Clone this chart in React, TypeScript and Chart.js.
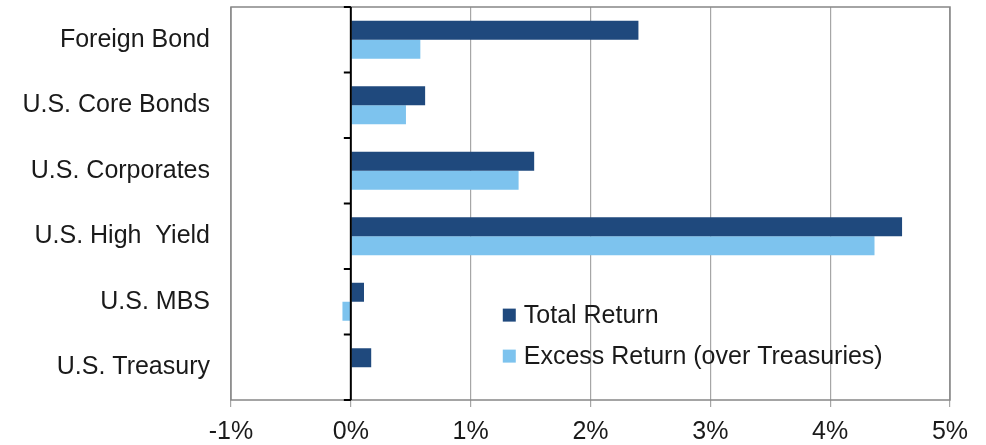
import { useEffect, useRef } from "react";
import { Chart, registerables } from "chart.js";

Chart.register(...registerables);

const categories = [
  "Foreign Bond",
  "U.S. Core Bonds",
  "U.S. Corporates",
  "U.S. High  Yield",
  "U.S. MBS",
  "U.S. Treasury",
];
const totalReturn = [2.4, 0.62, 1.53, 4.6, 0.11, 0.17];
const excessReturn = [0.58, 0.46, 1.4, 4.37, -0.07, 0];
const seriesNames = ["Total Return", "Excess Return (over Treasuries)"];
const seriesColors = ["#1f497d", "#7dc3ee"];
const xMin = -1;
const xMax = 5;
const xStep = 1;

const FONT = "'Liberation Sans', Arial, sans-serif";
const TEXT = "#1a1a1a";

const framePlugin = {
  id: "frame",
  afterDatasetsDraw(chart: any) {
    const { ctx, chartArea, scales } = chart;
    const xs = scales.x;
    ctx.save();
    ctx.strokeStyle = "#878787";
    ctx.lineWidth = 1.5;
    ctx.strokeRect(
      chartArea.left,
      chartArea.top,
      chartArea.right - chartArea.left,
      chartArea.bottom - chartArea.top
    );
    const x0 = xs.getPixelForValue(0);
    ctx.strokeStyle = "#000";
    ctx.lineWidth = 2;
    ctx.beginPath();
    ctx.moveTo(x0, chartArea.top);
    ctx.lineTo(x0, chartArea.bottom);
    ctx.stroke();
    const n = categories.length;
    const band = (chartArea.bottom - chartArea.top) / n;
    for (let i = 0; i <= n; i++) {
      const y = chartArea.top + i * band;
      ctx.beginPath();
      ctx.moveTo(x0 - 7, y);
      ctx.lineTo(x0, y);
      ctx.stroke();
    }
    ctx.restore();
  },
  afterDraw(chart: any) {
    const { ctx, chartArea } = chart;
    const w = chartArea.right - chartArea.left;
    const h = chartArea.bottom - chartArea.top;
    const left = chartArea.left + w * 0.378;
    const firstY = chartArea.top + h * 0.784;
    const rowGap = 41;
    ctx.save();
    ctx.font = `25px ${FONT}`;
    ctx.textBaseline = "middle";
    ctx.textAlign = "left";
    seriesNames.forEach((name, i) => {
      const cy = firstY + i * rowGap;
      ctx.fillStyle = seriesColors[i];
      ctx.fillRect(left, cy - 6.5, 13, 13);
      ctx.fillStyle = TEXT;
      ctx.fillText(name, left + 21, cy + 1);
    });
    ctx.restore();
  },
};

export default function App() {
  const ref = useRef<HTMLCanvasElement | null>(null);

  useEffect(() => {
    if (!ref.current) return;
    const chart = new Chart(ref.current, {
      type: "bar",
      data: {
        labels: categories,
        datasets: [
          {
            label: seriesNames[0],
            data: totalReturn,
            backgroundColor: seriesColors[0],
            borderWidth: 0,
          },
          {
            label: seriesNames[1],
            data: excessReturn,
            backgroundColor: seriesColors[1],
            borderWidth: 0,
          },
        ],
      },
      options: {
        indexAxis: "y",
        animation: false,
        responsive: true,
        maintainAspectRatio: false,
        datasets: {
          bar: { categoryPercentage: 0.58, barPercentage: 1 },
        },
        layout: { padding: { top: 7, right: 36, left: 0, bottom: 0 } },
        plugins: {
          legend: { display: false },
          tooltip: { enabled: false },
        },
        scales: {
          x: {
            type: "linear",
            min: xMin,
            max: xMax,
            ticks: {
              stepSize: xStep,
              callback: (v: any) => `${v}%`,
              font: { family: FONT, size: 25 },
              color: TEXT,
              padding: 10,
              maxRotation: 0,
            },
            grid: {
              color: (c: any) =>
                c.tick && c.tick.value === 0 ? "rgba(0,0,0,0)" : "#a6a6a6",
              lineWidth: 1.2,
              drawTicks: true,
              tickLength: 7,
              tickColor: "#a6a6a6",
            },
            border: { display: false },
            afterFit: (s: any) => {
              s.height = 45;
              s.paddingLeft = 0;
              s.paddingRight = 0;
              s.paddingTop = 0;
              s.paddingBottom = 0;
            },
          },
          y: {
            type: "category",
            ticks: {
              font: { family: FONT, size: 25 },
              color: TEXT,
              padding: 21,
            },
            grid: { display: false, drawTicks: false },
            border: { display: false },
            afterFit: (s: any) => {
              s.width = 231;
              s.paddingTop = 0;
              s.paddingBottom = 0;
              s.paddingLeft = 0;
              s.paddingRight = 0;
            },
          },
        },
      },
      plugins: [framePlugin],
    });
    return () => chart.destroy();
  }, []);

  return (
    <div
      style={{
        position: "fixed",
        left: 0,
        top: 0,
        width: 986,
        height: 445,
        background: "#fff",
      }}
    >
      <canvas ref={ref} />
    </div>
  );
}
